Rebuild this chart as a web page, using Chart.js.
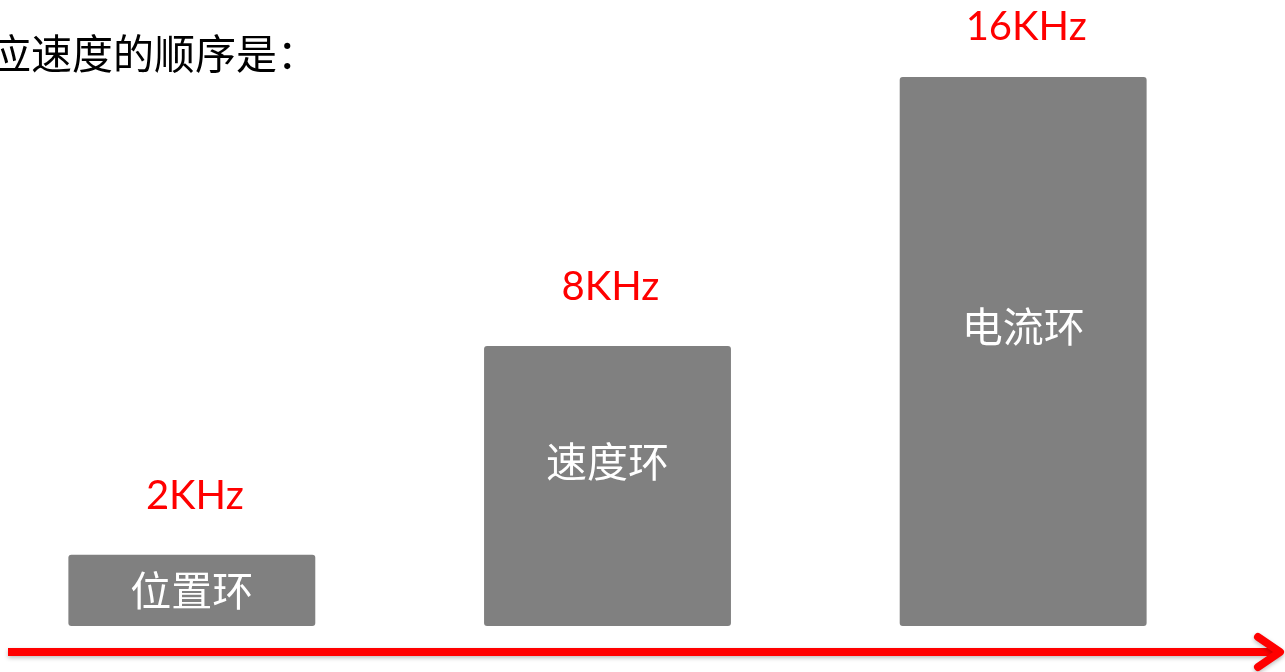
<!DOCTYPE html>
<html lang="zh">
<head>
  <meta charset="UTF-8">
  <title>环路响应速度</title>
  <script src="https://cdn.jsdelivr.net/npm/chart.js"></script>
  <style>
    body {
      margin: 0;
      background: #ffffff;
      overflow: hidden;
    }
    .chart-container {
      position: relative;
      left: -16px;
      width: 1301px;
      height: 672px;
    }
  </style>
</head>
<body>
  <div class="chart-container">
    <canvas id="loopChart"></canvas>
  </div>

  <script>
    // loops, ordered by response speed
    const loops = ['位置环', '速度环', '电流环'];
    // relative bar heights as drawn (tallest = 10)
    const barHeights = [1.3, 5.1, 10];
    // frequency labels shown above each bar
    const freqLabels = ['2KHz', '8KHz', '16KHz'];
    const titleText = '应速度的顺序是：';

    // canvas sits 16px left of the page edge
    const OFF = 16;

    // text inside and above the bars, plus the heading and the red arrow
    const decorations = {
      id: 'decorations',
      afterDatasetsDraw(chart) {
        const c = chart.ctx;
        const meta = chart.getDatasetMeta(0);
        c.save();
        meta.data.forEach((bar, i) => {
          const h = bar.base - bar.y;
          c.textAlign = 'center';
          c.textBaseline = 'middle';
          c.fillStyle = '#ffffff';
          c.font = '41px "Noto Sans CJK SC"';
          const inY = h > 120 ? bar.y + h / 2 - 25 : bar.y + h / 2;
          c.fillText(loops[i], bar.x, inY);

          c.fillStyle = '#ff0000';
          c.font = '40px Lato';
          c.fillText(freqLabels[i], bar.x + 3, Math.max(bar.y - 59, 27));
        });

        // heading, cut off at the left edge
        c.textAlign = 'left';
        c.textBaseline = 'middle';
        c.fillStyle = '#000000';
        c.font = '41px "Noto Sans CJK SC"';
        c.fillText(titleText, OFF - 10, 53);

        // red arrow along the bottom
        c.strokeStyle = '#ff0000';
        c.lineWidth = 8;
        c.shadowColor = 'rgba(0,0,0,0.25)';
        c.shadowBlur = 4;
        c.shadowOffsetY = 2;
        c.beginPath();
        c.moveTo(OFF + 8, 652);
        c.lineTo(OFF + 1279, 652);
        c.stroke();
        c.lineCap = 'round';
        c.lineJoin = 'round';
        c.beginPath();
        c.moveTo(OFF + 1258, 637);
        c.lineTo(OFF + 1280, 652);
        c.lineTo(OFF + 1258, 667);
        c.stroke();
        c.restore();
      }
    };

    new Chart(document.getElementById('loopChart'), {
      type: 'bar',
      data: {
        labels: loops,
        datasets: [{
          data: barHeights,
          backgroundColor: '#808080',
          borderRadius: 3,
          borderSkipped: false,
          barPercentage: 0.594,
          categoryPercentage: 1
        }]
      },
      options: {
        responsive: true,
        maintainAspectRatio: false,
        animation: false,
        layout: {
          padding: { top: 77, bottom: 46, left: 0, right: 54 }
        },
        plugins: {
          legend: { display: false },
          tooltip: { enabled: false }
        },
        scales: {
          x: { display: false },
          y: { display: false, min: 0, max: 10 }
        }
      },
      plugins: [decorations]
    });
  </script>
</body>
</html>
